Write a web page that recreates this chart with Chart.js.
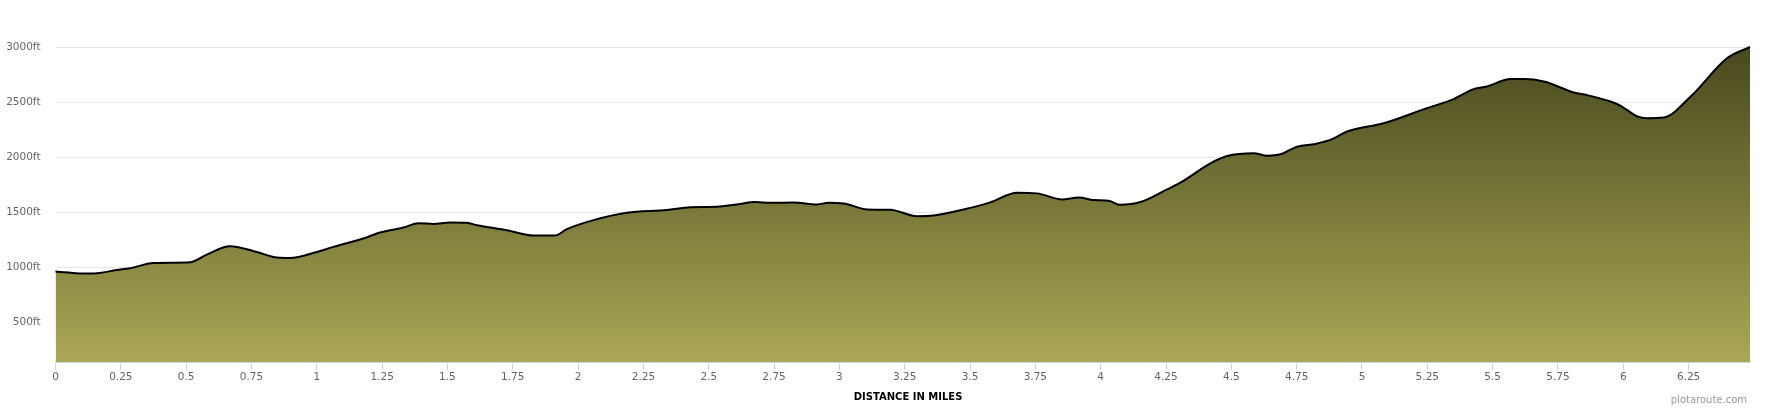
<!DOCTYPE html>
<html>
<head>
<meta charset="utf-8">
<script src="https://cdn.jsdelivr.net/npm/chart.js@4.4.1/dist/chart.umd.min.js"></script>
<style>
  html, body { margin: 0; padding: 0; background: #fff; }
  #wrap { width: 1770px; height: 410px; }
</style>
</head>
<body>
<div id="wrap"><canvas id="elevChart" width="1770" height="410"></canvas></div>
<script>
// distance along the route (miles) and elevation (ft)
const distances = [0, 0.05, 0.107, 0.158, 0.234, 0.285, 0.375, 0.45, 0.515, 0.579,
    0.668, 0.77, 0.834, 0.898, 1.0, 1.064, 1.178, 1.242, 1.332, 1.389,
    1.447, 1.51, 1.574, 1.613, 1.727, 1.829, 1.912, 1.957, 2.059, 2.187,
    2.34, 2.429, 2.531, 2.608, 2.678, 2.735, 2.825, 2.914, 2.959, 3.016,
    3.106, 3.195, 3.297, 3.361, 3.475, 3.577, 3.68, 3.756, 3.852, 3.916,
    3.973, 4.031, 4.075, 4.152, 4.254, 4.305, 4.42, 4.484, 4.586, 4.637,
    4.688, 4.752, 4.822, 4.886, 4.943, 5.083, 5.249, 5.351, 5.427, 5.478,
    5.569, 5.62, 5.696, 5.811, 5.862, 5.951, 5.99, 6.054, 6.092, 6.155,
    6.258, 6.398, 6.485];
const elevations = [961, 952, 943, 946, 975, 991, 1039, 1042, 1045, 1115,
    1191, 1139, 1094, 1085, 1139, 1185, 1261, 1316, 1361, 1400,
    1394, 1407, 1404, 1382, 1337, 1288, 1288, 1346, 1428, 1495,
    1519, 1546, 1549, 1571, 1592, 1585, 1589, 1571, 1585, 1580,
    1525, 1522, 1464, 1470, 1525, 1589, 1677, 1671, 1616, 1634,
    1610, 1604, 1567, 1592, 1707, 1768, 1944, 2010, 2035, 2013,
    2026, 2095, 2120, 2163, 2233, 2308, 2445, 2527, 2618, 2642,
    2709, 2709, 2687, 2587, 2563, 2505, 2466, 2369, 2354, 2360,
    2551, 2900, 3000];

const xTicks = [0, 0.25, 0.5, 0.75, 1, 1.25, 1.5, 1.75, 2, 2.25, 2.5, 2.75, 3,
    3.25, 3.5, 3.75, 4, 4.25, 4.5, 4.75, 5, 5.25, 5.5, 5.75, 6, 6.25];
const yTicks = [500, 1000, 1500, 2000, 2500, 3000];
const yMin = 140;
const yMax = 3000;
const xTitle = 'DISTANCE IN MILES';
const credit = 'plotaroute.com';

const points = distances.map((d, i) => ({ x: d, y: elevations[i] }));

const labelFont = { family: 'DejaVu Sans', size: 10.5 };

// axis title + credit line drawn at fixed spots
const extraText = {
    id: 'extraText',
    afterDraw(chart) {
        const c = chart.ctx;
        c.save();
        c.textBaseline = 'middle';
        c.textAlign = 'center';
        c.fillStyle = '#000';
        c.font = 'bold 10px "DejaVu Sans"';
        c.fillText(xTitle, 908, 397);
        c.textAlign = 'right';
        c.fillStyle = '#999';
        c.font = '10px "DejaVu Sans"';
        c.fillText(credit, 1747, 400);
        c.restore();
    }
};

const ctx = document.getElementById('elevChart').getContext('2d');
const chart = new Chart(ctx, {
    type: 'line',
    data: {
        datasets: [{
            label: 'Elevation',
            data: points,
            borderColor: '#000',
            borderWidth: 2,
            pointRadius: 0,
            cubicInterpolationMode: 'monotone',
            fill: 'start',
            clip: 6,
            backgroundColor: (context) => {
                const area = context.chart.chartArea;
                if (!area) return '#7d7d3a';
                const g = context.chart.ctx.createLinearGradient(0, area.top, 0, area.bottom);
                g.addColorStop(0, '#48481e');
                g.addColorStop(1, '#aaa855');
                return g;
            }
        }]
    },
    options: {
        responsive: false,
        animation: false,
        layout: { padding: { top: 47, right: 20, bottom: 0, left: 0 } },
        plugins: {
            legend: { display: false },
            tooltip: { enabled: false }
        },
        scales: {
            x: {
                type: 'linear',
                min: 0,
                max: distances[distances.length - 1],
                afterFit: (scale) => { scale.height = 48; },
                afterBuildTicks: (scale) => { scale.ticks = xTicks.map(v => ({ value: v })); },
                border: { display: true, color: '#ccd6eb', width: 1 },
                grid: { drawOnChartArea: false, drawTicks: true, tickLength: 8, color: '#ccd6eb' },
                ticks: {
                    maxRotation: 0,
                    autoSkip: false,
                    padding: 1,
                    color: '#666',
                    font: labelFont,
                    callback: (v) => String(v)
                }
            },
            y: {
                min: yMin,
                max: yMax,
                afterFit: (scale) => { scale.width = 55.5; },
                afterBuildTicks: (scale) => { scale.ticks = yTicks.map(v => ({ value: v })); },
                border: { display: false },
                grid: { color: '#e6e6e6', drawTicks: false },
                ticks: {
                    padding: 15,
                    color: '#666',
                    font: labelFont,
                    callback: (v) => v + 'ft'
                }
            }
        }
    },
    plugins: [extraText]
});
</script>
</body>
</html>
